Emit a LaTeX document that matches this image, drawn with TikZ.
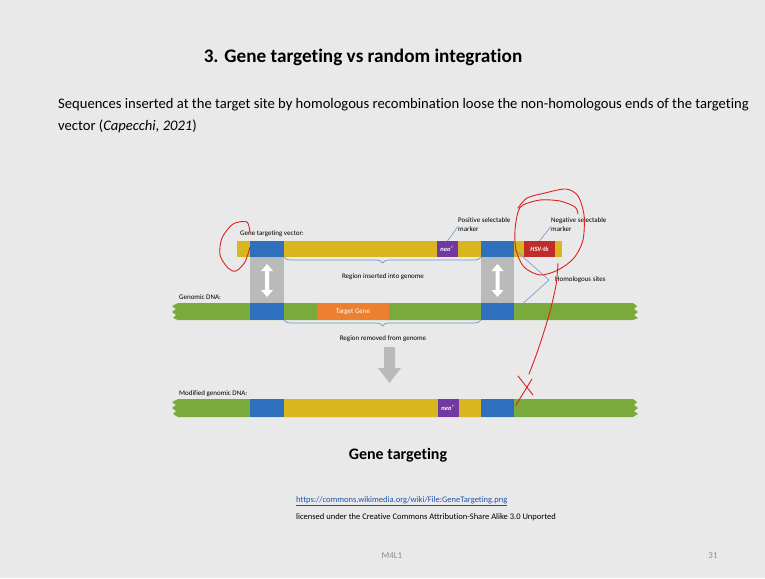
\documentclass[tikz,border=0pt]{standalone}
\usepackage{fontspec}
\setmainfont{Carlito}[Ligatures=NoCommon]
\usetikzlibrary{arrows,shapes,calc,positioning,decorations.pathreplacing}
\definecolor{slidebg}{RGB}{233,233,233}
\definecolor{dnayellow}{RGB}{218,182,30}
\definecolor{dnablue}{RGB}{46,112,190}
\definecolor{dnagreen}{RGB}{122,170,60}
\definecolor{geneorange}{RGB}{236,128,48}
\definecolor{neopurple}{RGB}{112,56,160}
\definecolor{tkred}{RGB}{192,44,44}
\definecolor{colgray}{RGB}{186,186,186}
\definecolor{pointblue}{RGB}{110,150,205}
\definecolor{penred}{RGB}{222,32,32}
\definecolor{linkblue}{RGB}{32,82,170}
\tikzset{
  seg/.style={inner sep=0pt, outer sep=0pt, minimum height=#1, text=white, font=\fontsize{6.5}{7}\selectfont\bfseries},
  lbl/.style={inner sep=0pt, font=\fontsize{7}{8.5}\selectfont, text=black},
  pointer/.style={draw=pointblue, line width=0.6pt},
  brc/.style={draw=pointblue, line width=0.7pt, decorate, decoration={brace, mirror, amplitude=#1}},
  pen/.style={draw=penred, line width=0.9pt, line cap=round, line join=round},
}
\begin{document}
\begin{tikzpicture}[x=1pt, y=-1pt]
		\useasboundingbox (0,0) rectangle (765,578);
		\fill [slidebg] (0,0) rectangle (765,578);
		% title and text
		\node [font=\fontsize{19.2}{23}\selectfont\bfseries] (title) at (363,57) {3. Gene targeting vs random integration};
		\node [anchor=base west, font=\fontsize{14.6}{17}\selectfont, inner sep=0pt] (intro1) at (58,108) {Sequences inserted at the target site by homologous recombination loose the non-homologous ends of the targeting};
		\node [anchor=base west, font=\fontsize{14.6}{17}\selectfont, inner sep=0pt] (intro2) at (58,130) {vector (\textit{Capecchi, 2021})};
		% targeting vector
		\fill [dnayellow] (237,241) rectangle (562,257);
		\node [seg=16pt, fill=dnablue, minimum width=34pt] (vblueL) at (267,249) {};
		\node [seg=16pt, fill=dnablue, minimum width=33pt] (vblueR) at (497.5,249) {};
		\node [seg=16pt, fill=neopurple, minimum width=21pt] (vneo) at (447.5,249) {\textit{neo}$^r$};
		\node [seg=16pt, fill=tkred, minimum width=31pt] (tk) at (539.5,249) {\textit{HSV-tk}};
		% genomic DNA
		\fill [dnagreen] (178,303) -- (633,303) -- (637,306) -- (634,309) -- (638,312) -- (634,315) -- (638,318) -- (633,320)
			-- (178,320) -- (173,318) -- (176,315) -- (172,312) -- (176,309) -- (172,306) -- cycle;
		\node [seg=17pt, fill=dnablue, minimum width=34pt] (gblueL) at (267,311.5) {};
		\node [seg=17pt, fill=dnablue, minimum width=33pt] (gblueR) at (497.5,311.5) {};
		\node [seg=17pt, fill=geneorange, minimum width=72pt, font=\fontsize{7}{8}\selectfont] (target) at (353,311.5) {Target Gene};
		% modified genomic DNA
		\fill [dnagreen] (178,399) -- (633,399) -- (637,402) -- (634,405) -- (638,408) -- (634,411) -- (638,414) -- (633,417)
			-- (178,417) -- (173,414) -- (176,411) -- (172,408) -- (176,405) -- (172,402) -- cycle;
		\fill [dnayellow] (284,399) rectangle (481,417);
		\node [seg=18pt, fill=dnablue, minimum width=34pt] (mblueL) at (267,408) {};
		\node [seg=18pt, fill=dnablue, minimum width=33pt] (mblueR) at (497.5,408) {};
		\node [seg=18pt, fill=neopurple, minimum width=21pt] (mneo) at (448.5,408) {\textit{neo}$^r$};
		% gray columns with double arrows
		\fill [colgray] (vblueL.south west) rectangle (gblueL.north east);
		\fill [colgray] (vblueR.south west) rectangle (gblueR.north east);
		\foreach \cx in {267,497.5} {
			\fill [white] (\cx,264) -- (\cx+6,271) -- (\cx+2,271) -- (\cx+2,290) -- (\cx+6,290) -- (\cx,297)
				-- (\cx-6,290) -- (\cx-2,290) -- (\cx-2,271) -- (\cx-6,271) -- cycle;
		}
		% down arrow
		\fill [colgray] (384,347) -- (395,347) -- (395,368) -- (401,368) -- (389.5,383) -- (378,368) -- (384,368) -- cycle;
		% braces
		\draw [brc=6pt] (vblueL.south east) -- (vblueR.south west);
		\draw [brc=6pt] (gblueL.south east) -- (gblueR.south west);
		% labels
		\node [lbl, anchor=base west] (veclbl) at (240,235.5) {Gene targeting vector:};
		\node [lbl, anchor=base west] (genlbl) at (179,299.5) {Genomic DNA:};
		\node [lbl, anchor=base west] (modlbl) at (179,395.5) {Modified genomic DNA:};
		\node [lbl] (inslbl) at (383,277) {Region inserted into genome};
		\node [lbl] (remlbl) at (383,339) {Region removed from genome};
		\node [lbl, anchor=north west, align=left] (poslbl) at (458,217.5) {Positive selectable\\marker};
		\node [lbl, anchor=north west, align=left] (neglbl) at (551,217.5) {Negative selectable\\marker};
		\node [lbl, anchor=west] (homlbl) at (555,280) {Homologous sites};
		\coordinate [left=6pt of homlbl.west] (homtip);
		% pointers
		\draw [pointer] (vneo.north) -- ($(poslbl.west)+(0,2)$);
		\draw [pointer] (tk.north) -- ($(neglbl.west)+(0,2)$);
		\draw [pointer] (vblueR.east) -- (homtip) -- (gblueR.east);
		% caption and source
		\node [font=\fontsize{16}{19}\selectfont\bfseries] (caption) at (398,455) {Gene targeting};
		\node [anchor=base west, inner sep=0pt, font=\fontsize{8.5}{10}\selectfont, text=linkblue] (url) at (296,502)
			{\underline{https://commons.wikimedia.org/wiki/File:GeneTargeting.png}};
		\node [anchor=base west, inner sep=0pt, font=\fontsize{8.5}{10}\selectfont] (lic) at (296,519)
			{licensed under the Creative Commons Attribution-Share Alike 3.0 Unported};
		\node [font=\fontsize{9}{10}\selectfont, text=black!45] (foot) at (392,556) {M4L1};
		\node [font=\fontsize{9}{10}\selectfont, text=black!45] (page) at (713,556) {31};
		% pen marks
		\draw [pen] plot [smooth] coordinates {(250,233) (247,222) (233,224) (222,238) (220,255) (228,268) (236,271) (245,262) (250,247)};
		\draw [pen] plot [smooth] coordinates {(518,208) (527,198) (545,193) (566,189) (578,196) (584,215) (583,240) (574,258)
			(558,270) (540,275) (524,267) (516,250) (515,230) (518,212) (523,205) (540,200) (560,201) (575,207) (578,214)};
		\draw [pen] plot [smooth] coordinates {(558,263) (556,285) (549,315) (538,350) (529,374)};
		\draw [pen] (518,376) -- (533,395);
		\draw [pen] (532,379) -- (516,405);
	\end{tikzpicture}
\end{document}
